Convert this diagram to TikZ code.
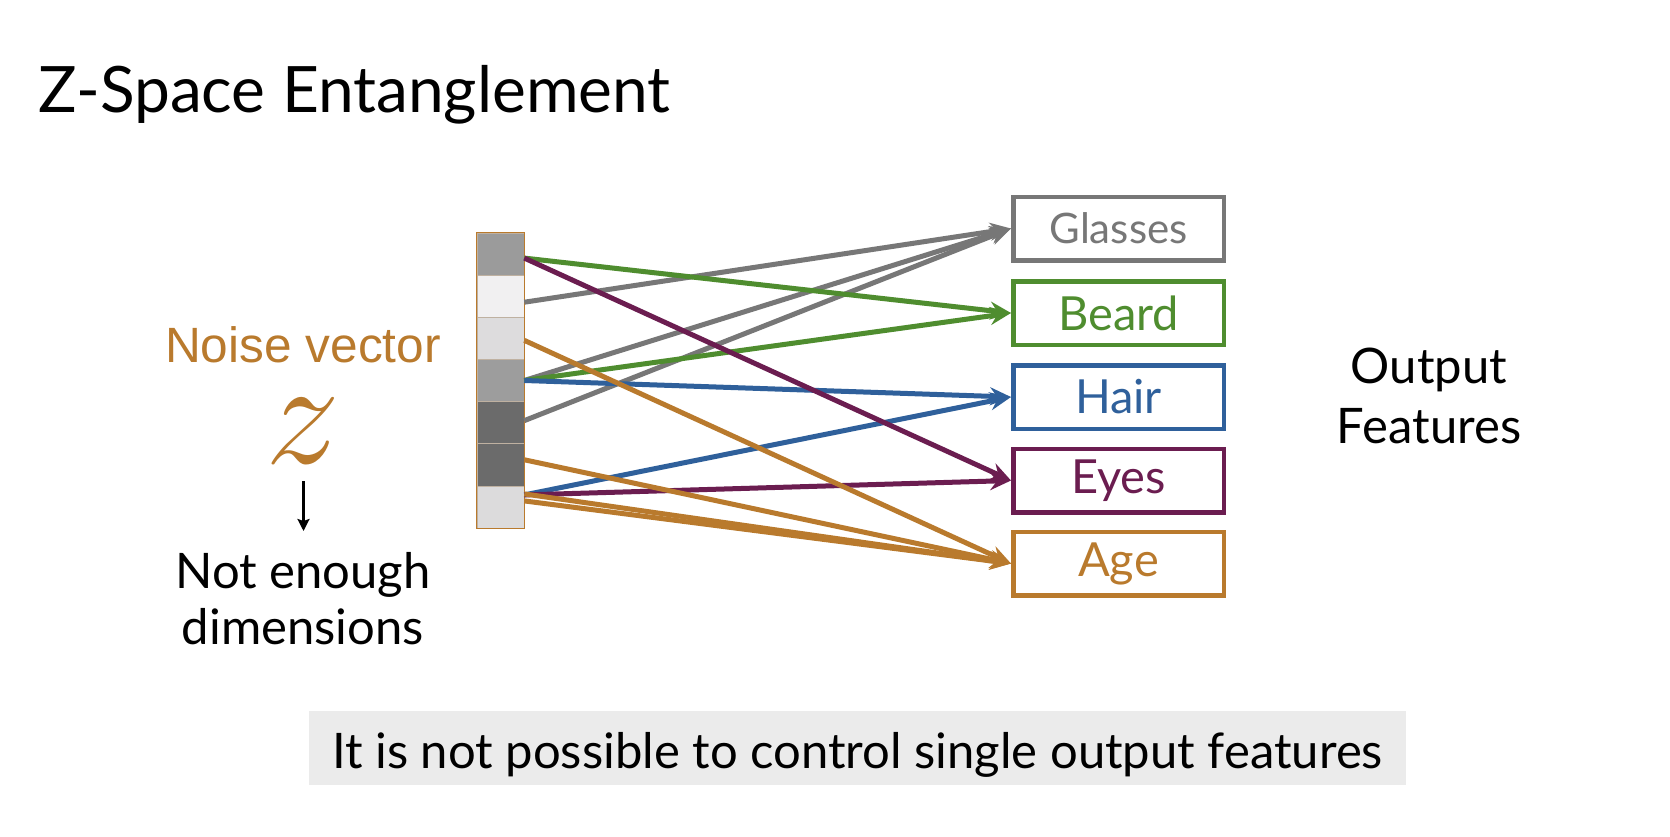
\RequirePackage{fix-cm}
\documentclass[tikz,border=0pt]{standalone}
\usepackage{fontspec}
\setmainfont{Lato}
\newfontfamily\arialf{Liberation Sans}
\usetikzlibrary{arrows.meta}
\definecolor{cgray}{HTML}{777777}
\definecolor{cgreen}{HTML}{4F8D2F}
\definecolor{cblue}{HTML}{2F609B}
\definecolor{cpurple}{HTML}{6B1D50}
\definecolor{corange}{HTML}{B97A2D}
\definecolor{capbg}{HTML}{EBEBEB}
\tikzset{
  cell/.style={minimum width=47pt, minimum height=42.14pt, inner sep=0pt, draw=corange!35!gray!60, line width=0.6pt},
  feat/.style={draw=#1, text=#1, line width=4.5pt, minimum width=210.5pt, minimum height=63.5pt, inner sep=0pt, font=\fontsize{47pt}{47pt}\selectfont},
  conn/.style={draw=#1, line width=5pt, -{Stealth[length=21pt,width=18pt,inset=7pt]}},
  lbl/.style={inner sep=0pt, anchor=base}
}
\begin{document}
\begin{tikzpicture}[x=1pt,y=-1pt]
\useasboundingbox (0,0) rectangle (1670,836);
\fill[white] (0,0) rectangle (1670,836);
% title
\node[inner sep=0pt, anchor=base west, font=\fontsize{64pt}{64pt}\selectfont] (title) at (38,112) {Z-Space Entanglement};
% noise vector
\node[lbl, text=corange, font=\arialf\fontsize{49.6pt}{50pt}\selectfont] (noise) at (303,362) {Noise vector};
\node[inner sep=0pt, text=corange, font=\fontsize{150pt}{150pt}\selectfont] (z) at (303,431) {$z$};
\coordinate (arrtop) at (303.5,481);
\coordinate (arrbot) at (303.5,531);
\draw[line width=2.4pt, -{Stealth[length=12pt,width=12pt,inset=2pt]}] (arrtop) -- (arrbot);
\node[lbl, font=\fontsize{49pt}{49pt}\selectfont] (ne1) at (303,588) {Not enough};
\node[lbl, font=\fontsize{49pt}{49pt}\selectfont] (ne2) at (303,644) {dimensions};
% bar
\node[cell, fill={rgb,255:red,155;green,155;blue,155}] (c1) at (500.5,254.07) {};
\node[cell, fill={rgb,255:red,241;green,240;blue,241}] (c2) at (500.5,296.21) {};
\node[cell, fill={rgb,255:red,221;green,220;blue,221}] (c3) at (500.5,338.35) {};
\node[cell, fill={rgb,255:red,157;green,157;blue,157}] (c4) at (500.5,380.49) {};
\node[cell, fill={rgb,255:red,107;green,107;blue,107}] (c5) at (500.5,422.63) {};
\node[cell, fill={rgb,255:red,107;green,107;blue,107}] (c6) at (500.5,464.77) {};
\node[cell, fill={rgb,255:red,220;green,219;blue,220}] (c7) at (500.5,506.91) {};
\draw[corange, line width=1.5pt] (c1.north west) rectangle (c7.south east);
% features
\node[feat=cgray, font=\fontsize{42pt}{42pt}\selectfont] (glasses) at (1118.5,228.5) {Glasses};
\node[feat=cgreen] (beard) at (1118.5,313) {Beard};
\node[feat=cblue] (hair) at (1118.5,397) {Hair};
\node[feat=cpurple] (eyes) at (1118.5,480.5) {Eyes};
\node[feat=corange] (age) at (1118.5,563.5) {Age};
% output features
\node[lbl, font=\fontsize{49pt}{49pt}\selectfont] (out1) at (1429,383) {Output};
\node[lbl, font=\fontsize{49pt}{49pt}\selectfont] (out2) at (1429,443) {Features};
% connectors
\draw[conn=cgray] ([yshift=-6pt]c2.east) -- (glasses.west);
\draw[conn=cgray] (c4.east) -- (glasses.west);
\draw[conn=cgray] ([yshift=2pt]c5.east) -- (glasses.west);
\draw[conn=cgreen] ([yshift=-4pt]c1.east) -- (beard.west);
\draw[conn=cgreen] (c4.east) -- (beard.west);
\draw[conn=cblue] (c4.east) -- (hair.west);
\draw[conn=cblue] ([yshift=12pt]c7.east) -- (hair.west);
\draw[conn=cpurple] ([yshift=-4pt]c1.east) -- (eyes.west);
\draw[conn=cpurple] ([yshift=12pt]c7.east) -- (eyes.west);
\draw[conn=corange] ([yshift=-2pt]c3.east) -- (age.west);
\draw[conn=corange] ([yshift=5pt]c6.east) -- (age.west);
\draw[conn=corange] ([yshift=13pt]c7.east) -- (age.west);
\draw[conn=corange] ([yshift=6pt]c7.east) -- (age.west);
% caption
\node[fill=capbg, minimum width=1097pt, minimum height=74pt, inner sep=0pt] (capbox) at (857.5,748) {};
\node[lbl, font=\fontsize{49pt}{49pt}\selectfont] (cap) at (857.5,768) {It is not possible to control single output features};
\end{tikzpicture}
\end{document}
